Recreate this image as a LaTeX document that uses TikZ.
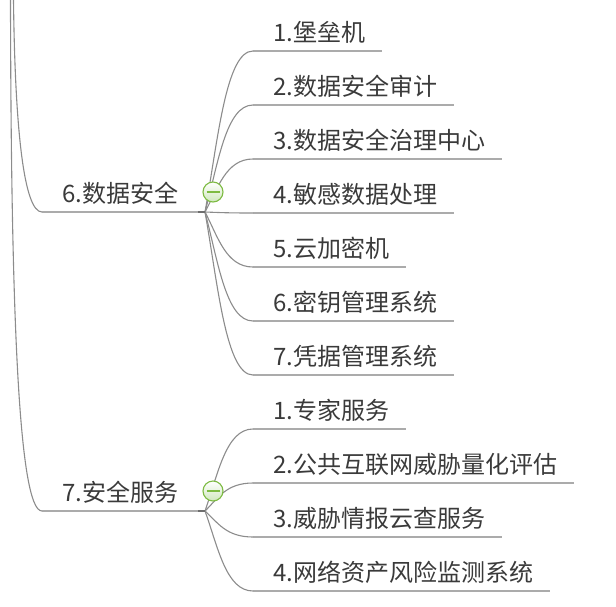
\documentclass[tikz,border=0pt]{standalone}
\usepackage{fontspec}
\newfontfamily\cjkfont{Noto Sans CJK SC}
\usetikzlibrary{calc}
\definecolor{txt}{HTML}{3A3A3A}
\definecolor{uline}{HTML}{ABABAB}
\definecolor{branchc}{HTML}{8C8C8C}
\definecolor{junc}{HTML}{6E6E6E}
\definecolor{grn}{HTML}{7DBB42}
\definecolor{grnfill}{HTML}{CFE8BD}
\tikzset{
  topic/.style={font=\cjkfont\fontsize{24}{28}\selectfont, text=txt, inner sep=0pt, anchor=base west},
  ul/.style={draw=uline, line width=2.2pt},
  branch/.style={draw=branchc, line width=1.1pt},
  jmark/.style={draw=junc, line width=2.4pt},
  collapse/.style={circle, draw=grn, line width=1.1pt, minimum size=20pt, inner sep=0pt,
    top color=white, bottom color=grnfill,
    path picture={\draw[grn, line width=1.6pt] ([xshift=-6.5pt]path picture bounding box.center) -- ([xshift=6.5pt]path picture bounding box.center);}}
}
\begin{document}
\begin{tikzpicture}[x=1pt,y=-1pt]
\useasboundingbox (0,0) rectangle (616,606);
% parent branches coming from above
\coordinate (p6) at (13.5,0);
\coordinate (p7) at (10.5,0);
\coordinate (j6) at (205,212);
\coordinate (j7) at (205,511);
% group topics
\node[topic] (g6) at (62,202) {6.数据安全};
\node[topic] (g7) at (62,501) {7.安全服务};
\coordinate (s6) at (42,212);
\coordinate (s7) at (42,511);
\draw[branch] (p6) .. controls (15,130) and (24,212) .. (s6);
\draw[branch] (p7) .. controls (11,300) and (18,511) .. (s7);
\draw[ul] (s6) -- (j6);
\draw[ul] (s7) -- (j7);
% children of group 6
\foreach \nm/\yy/\tx in {c61/51/1.堡垒机, c62/105/2.数据安全审计, c63/159/3.数据安全治理中心, c64/213/4.敏感数据处理, c65/267/5.云加密机, c66/321/6.密钥管理系统, c67/375/7.凭据管理系统}{
  \coordinate (u\nm) at (253,\yy);
  \node[topic] (\nm) at (273,\yy-10) {\tx};
  \draw[ul] (u\nm) -- ($(\nm.base east)+(17,10)$);
  \draw[branch] (j6) .. controls ($(j6)+(13,{0.45*(\yy-212)})$) and (226,\yy) .. (u\nm);
}
% children of group 7
\foreach \nm/\yy/\tx in {c71/429/1.专家服务, c72/483/2.公共互联网威胁量化评估, c73/537/3.威胁情报云查服务, c74/591/4.网络资产风险监测系统}{
  \coordinate (u\nm) at (253,\yy);
  \node[topic] (\nm) at (273,\yy-10) {\tx};
  \draw[ul] (u\nm) -- ($(\nm.base east)+(17,10)$);
  \draw[branch] (j7) .. controls ($(j7)+(13,{0.45*(\yy-511)})$) and (226,\yy) .. (u\nm);
}
\draw[jmark] (198,212) -- (j6);
\draw[jmark] (198,511) -- (j7);
\node[collapse] (m6) at (213,192) {};
\node[collapse] (m7) at (213,491) {};
\end{tikzpicture}
\end{document}
